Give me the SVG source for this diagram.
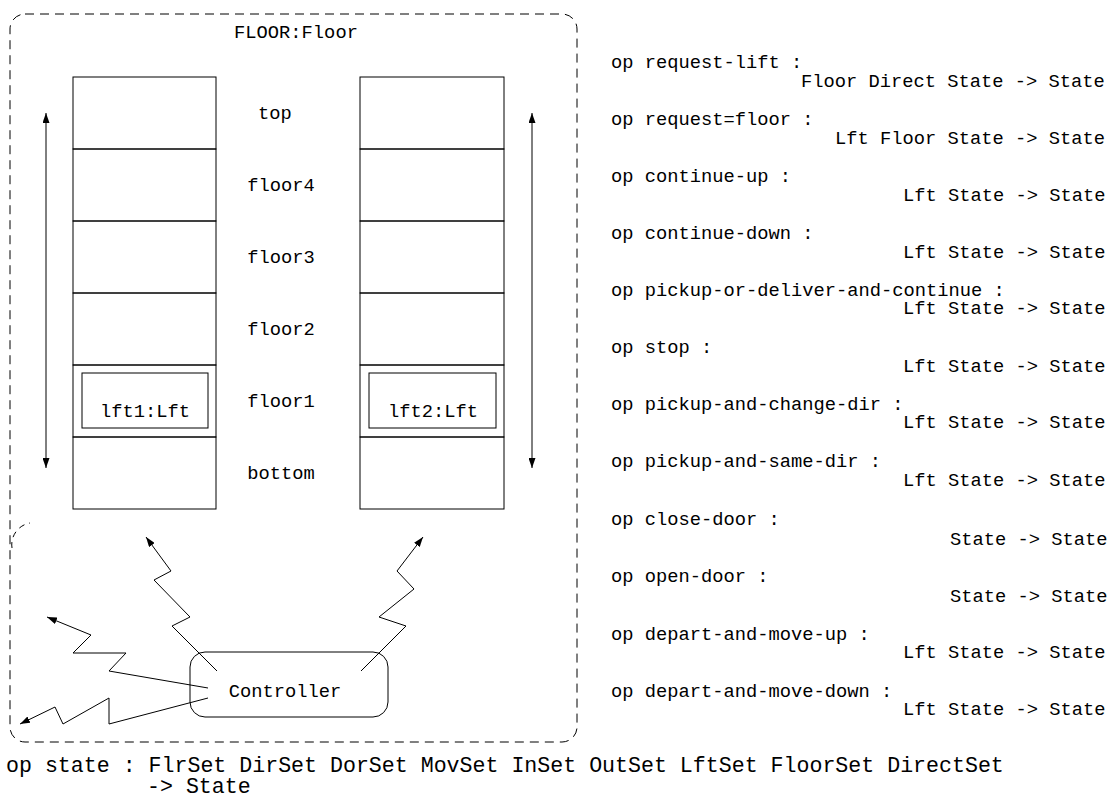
<svg xmlns="http://www.w3.org/2000/svg" width="1109" height="798" viewBox="0 0 1109 798">
<style>
  .t { font-family: "Liberation Mono", "Courier New", monospace; font-size: 18.75px; fill: #000; }
  .big { font-family: "Liberation Mono", "Courier New", monospace; font-size: 21.6px; fill: #000; }
  .box { fill: none; stroke: #000; stroke-width: 1; }
  .dash { fill: none; stroke: #000; stroke-width: 1; stroke-dasharray: 9 6; }
  .ln { fill: none; stroke: #000; stroke-width: 1; }
</style>
<defs>
  <marker id="ah" markerWidth="10" markerHeight="7" refX="10" refY="3.5" orient="auto-start-reverse" markerUnits="userSpaceOnUse">
    <path d="M0,0 L10,3.5 L0,7 z" fill="#000"/>
  </marker>
</defs>
<rect width="1109" height="798" fill="#fff"/>

<g id="floor-frame">
  <rect class="dash" x="10" y="14" width="567" height="728" rx="15" ry="15"/>
  <path class="dash" d="M 12 548 A 22 22 0 0 1 30 523" style="stroke-dasharray:6 5"/>
  <text class="t" x="296" y="38" text-anchor="middle">FLOOR:Floor</text>
</g>

<g id="shaft-left">
  <rect class="box" x="73" y="77" width="143" height="72"/>
  <rect class="box" x="73" y="149" width="143" height="72"/>
  <rect class="box" x="73" y="221" width="143" height="72"/>
  <rect class="box" x="73" y="293" width="143" height="72"/>
  <rect class="box" x="73" y="365" width="143" height="72"/>
  <rect class="box" x="73" y="437" width="143" height="72"/>
</g>
<g id="shaft-right">
  <rect class="box" x="360" y="77" width="144" height="72"/>
  <rect class="box" x="360" y="149" width="144" height="72"/>
  <rect class="box" x="360" y="221" width="144" height="72"/>
  <rect class="box" x="360" y="293" width="144" height="72"/>
  <rect class="box" x="360" y="365" width="144" height="72"/>
  <rect class="box" x="360" y="437" width="144" height="72"/>
</g>
<g id="floor-labels">
  <text class="t" x="275" y="119" text-anchor="middle">top</text>
  <text class="t" x="281" y="191" text-anchor="middle">floor4</text>
  <text class="t" x="281" y="263" text-anchor="middle">floor3</text>
  <text class="t" x="281" y="335" text-anchor="middle">floor2</text>
  <text class="t" x="281" y="407" text-anchor="middle">floor1</text>
  <text class="t" x="281" y="479" text-anchor="middle">bottom</text>
</g>
<g id="lft1">
  <rect class="box" x="82" y="373" width="126" height="55"/>
  <text class="t" x="145" y="417" text-anchor="middle">lft1:Lft</text>
</g>
<g id="lft2">
  <rect class="box" x="369" y="373" width="127" height="55"/>
  <text class="t" x="433" y="417" text-anchor="middle">lft2:Lft</text>
</g>
<g id="controller">
  <rect class="box" x="190" y="652" width="198" height="65" rx="15" ry="15"/>
  <text class="t" x="285" y="697" text-anchor="middle">Controller</text>
</g>

<g id="connectors">
  <line class="ln" x1="46" y1="113" x2="46" y2="468" marker-start="url(#ah)" marker-end="url(#ah)"/>
  <line class="ln" x1="532" y1="113" x2="532" y2="468" marker-start="url(#ah)" marker-end="url(#ah)"/>
  <polyline class="ln" points="217,671 172,626 190,617 154,580 171,571 146,537" marker-end="url(#ah)"/>
  <polyline class="ln" points="361,671 406,626 379,617 414,589 397,571 423,537" marker-end="url(#ah)"/>
  <polyline class="ln" points="208,688 109,671 126,653 73,653 91,635 47,617" marker-end="url(#ah)"/>
  <polyline class="ln" points="208,698 109,724 109,698 63,724 55,707 20,724" marker-end="url(#ah)"/>
</g>

<g id="operations">
  <text class="t" x="611" y="68">op request-lift :</text>
  <text class="t" x="801" y="87">Floor Direct State -&gt; State</text>
  <text class="t" x="611" y="125">op request=floor :</text>
  <text class="t" x="835" y="144">Lft Floor State -&gt; State</text>
  <text class="t" x="611" y="182">op continue-up :</text>
  <text class="t" x="903" y="201">Lft State -&gt; State</text>
  <text class="t" x="611" y="239">op continue-down :</text>
  <text class="t" x="903" y="258">Lft State -&gt; State</text>
  <text class="t" x="611" y="296">op pickup-or-deliver-and-continue :</text>
  <text class="t" x="903" y="314">Lft State -&gt; State</text>
  <text class="t" x="611" y="353">op stop :</text>
  <text class="t" x="903" y="372">Lft State -&gt; State</text>
  <text class="t" x="611" y="410">op pickup-and-change-dir :</text>
  <text class="t" x="903" y="428">Lft State -&gt; State</text>
  <text class="t" x="611" y="467">op pickup-and-same-dir :</text>
  <text class="t" x="903" y="486">Lft State -&gt; State</text>
  <text class="t" x="611" y="525">op close-door :</text>
  <text class="t" x="950" y="545">State -&gt; State</text>
  <text class="t" x="611" y="582">op open-door :</text>
  <text class="t" x="950" y="602">State -&gt; State</text>
  <text class="t" x="611" y="640">op depart-and-move-up :</text>
  <text class="t" x="903" y="658">Lft State -&gt; State</text>
  <text class="t" x="611" y="697">op depart-and-move-down :</text>
  <text class="t" x="903" y="715">Lft State -&gt; State</text>
</g>

<g id="state-op">
  <text class="big" x="6" y="772">op state : FlrSet DirSet DorSet MovSet InSet OutSet LftSet FloorSet DirectSet</text>
  <text class="big" x="147" y="793">-&gt; State</text>
</g>
</svg>
